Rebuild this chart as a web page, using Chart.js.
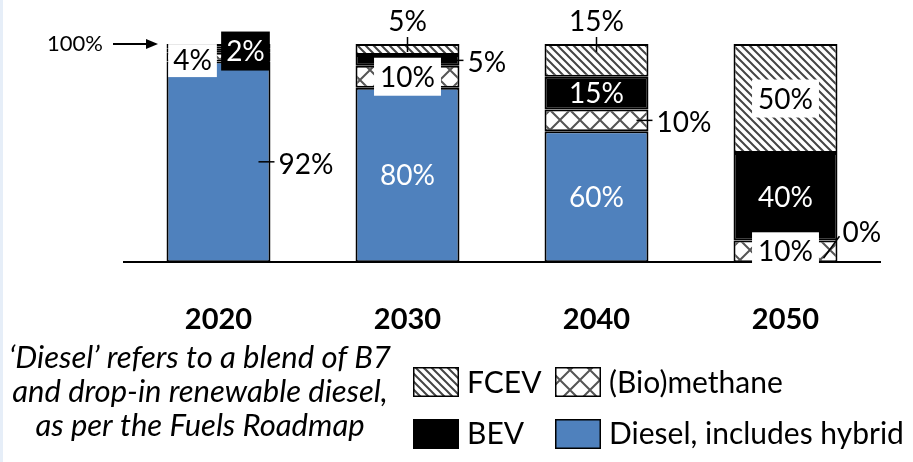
<!DOCTYPE html>
<html>
<head>
<meta charset="utf-8">
<script src="https://cdn.jsdelivr.net/npm/chart.js@4.4.0/dist/chart.umd.min.js"></script>
<style>
  html, body { margin: 0; padding: 0; background: #fff; }
  #wrap { width: 913px; height: 462px; }
</style>
</head>
<body>
<div id="wrap"><canvas id="fleetChart" width="913" height="462"></canvas></div>
<script>
// Truck fleet share by powertrain, % of fleet
const years = ['2020', '2030', '2040', '2050'];
const diesel = [92, 80, 60, 0];
const biomethane = [4, 10, 10, 10];
const bev = [2, 5, 15, 40];
const fcev = [2, 5, 15, 50];
const seriesNames = ['Diesel, includes hybrid', '(Bio)methane', 'BEV', 'FCEV'];
const footnote = ['‘Diesel’ refers to a blend of B7', 'and drop-in renewable diesel,', 'as per the Fuels Roadmap'];

// where each value label goes (null = no label)
const labelPlacement = [
  ['right', 'inside', 'inside', 'slant'],   // diesel
  ['boxLeft', 'box', 'right', 'box'],       // biomethane
  ['blackRight', 'right', 'inside', 'inside'], // bev
  [null, 'above', 'above', 'box']           // fcev
];

const FONT = 'Lato, "Open Sans", sans-serif';
const canvas = document.getElementById('fleetChart');
const ctx = canvas.getContext('2d');

function hatchPattern() {
  const t = document.createElement('canvas');
  t.width = 8; t.height = 8;
  const g = t.getContext('2d');
  g.fillStyle = '#fff';
  g.fillRect(0, 0, 8, 8);
  g.strokeStyle = '#444';
  g.lineWidth = 2;
  g.beginPath();
  g.moveTo(-2, -2); g.lineTo(10, 10);
  g.moveTo(-2, 6); g.lineTo(2, 10);
  g.moveTo(6, -2); g.lineTo(10, 2);
  g.stroke();
  return ctx.createPattern(t, 'repeat');
}

function latticePattern() {
  const s = 20;
  const t = document.createElement('canvas');
  t.width = s; t.height = s;
  const g = t.getContext('2d');
  g.fillStyle = '#fff';
  g.fillRect(0, 0, s, s);
  g.strokeStyle = '#555';
  g.lineWidth = 2;
  g.beginPath();
  g.moveTo(0, 0); g.lineTo(s, s);
  g.moveTo(s, 0); g.lineTo(0, s);
  g.stroke();
  return ctx.createPattern(t, 'repeat');
}

const fcevFill = hatchPattern();
const bioFill = latticePattern();

function line(c, x1, y1, x2, y2) {
  c.beginPath();
  c.moveTo(x1, y1);
  c.lineTo(x2, y2);
  c.stroke();
}

function drawValueLabels(chart) {
  const c = chart.ctx;
  c.save();
  c.font = '28px ' + FONT;
  c.textBaseline = 'middle';
  c.strokeStyle = '#000';
  c.lineWidth = 1.5;
  chart.data.datasets.forEach((ds, i) => {
    const meta = chart.getDatasetMeta(i);
    meta.data.forEach((bar, j) => {
      const mode = labelPlacement[i][j];
      if (!mode) return;
      const text = ds.data[j] + '%';
      const top = Math.min(bar.y, bar.base);
      const bottom = Math.max(bar.y, bar.base);
      const cy = (top + bottom) / 2;
      const left = bar.x - bar.width / 2;
      const right = bar.x + bar.width / 2;
      const tw = c.measureText(text).width;
      c.textAlign = 'center';
      if (mode === 'inside') {
        c.fillStyle = '#fff';
        c.fillText(text, bar.x, cy + 1);
      } else if (mode === 'box') {
        c.fillStyle = '#fff';
        c.fillRect(bar.x - tw / 2 - 6, cy - 19, tw + 12, 38);
        c.fillStyle = '#000';
        c.fillText(text, bar.x, cy + 1);
      } else if (mode === 'boxLeft') {
        const x = left + 26;
        c.fillStyle = '#fff';
        c.fillRect(x - tw / 2 - 5, cy - 13, tw + 10, 33);
        c.fillStyle = '#000';
        c.fillText(text, x, cy + 4);
      } else if (mode === 'blackRight') {
        const x = right - 25;
        c.fillStyle = '#000';
        c.fillRect(x - tw / 2 - 5, cy - 19, tw + 10, 39);
        c.fillStyle = '#fff';
        c.fillText(text, x, cy + 1);
      } else if (mode === 'right') {
        line(c, right - 12, cy, right + 4, cy);
        c.textAlign = 'left';
        c.fillStyle = '#000';
        c.fillText(text, right + 8, cy + 3);
      } else if (mode === 'above') {
        line(c, bar.x, top + 8, bar.x, top - 7);
        c.fillStyle = '#000';
        c.fillText(text, bar.x, top - 22);
      } else if (mode === 'slant') {
        line(c, right - 14, bottom - 4, right + 2, bottom - 26);
        c.textAlign = 'left';
        c.fillStyle = '#000';
        c.fillText(text, right + 5, bottom - 29);
      }
    });
  });
  c.restore();
}

function drawHundredMarker(chart) {
  const c = chart.ctx;
  const y = chart.scales.y.getPixelForValue(100);
  c.save();
  c.font = '22px ' + FONT;
  c.fillStyle = '#000';
  c.textAlign = 'right';
  c.textBaseline = 'middle';
  c.fillText('100%', 103, y);
  c.strokeStyle = '#000';
  c.lineWidth = 2;
  line(c, 113, y, 148, y);
  c.beginPath();
  c.moveTo(158, y);
  c.lineTo(146, y - 5);
  c.lineTo(146, y + 5);
  c.closePath();
  c.fill();
  c.restore();
}

function drawFootnote(chart) {
  const c = chart.ctx;
  c.save();
  c.font = 'italic 31px ' + FONT;
  c.fillStyle = '#000';
  c.textAlign = 'center';
  c.textBaseline = 'alphabetic';
  const baselines = [368, 402, 436];
  footnote.forEach((t, k) => c.fillText(t, 200, baselines[k]));
  c.restore();
}

function drawLegend(chart) {
  const c = chart.ctx;
  const ds = chart.data.datasets;
  // [dataset index, swatch x, swatch top, baseline]
  const items = [
    [3, 413, 367, 393],
    [1, 555, 367, 393],
    [2, 413, 419, 444],
    [0, 555, 419, 444]
  ];
  c.save();
  c.font = '30px ' + FONT;
  c.textBaseline = 'alphabetic';
  c.textAlign = 'left';
  items.forEach(([i, x, y, base]) => {
    c.fillStyle = ds[i].backgroundColor;
    c.fillRect(x, y, 46, 30);
    c.strokeStyle = '#000';
    c.lineWidth = 1.5;
    c.strokeRect(x + 0.75, y + 0.75, 44.5, 28.5);
    c.fillStyle = '#000';
    c.fillText(ds[i].label, x + 54, base);
  });
  c.restore();
}

const overlay = {
  id: 'overlay',
  beforeDraw(chart) {
    const c = chart.ctx;
    c.save();
    c.fillStyle = '#fff';
    c.fillRect(0, 0, chart.width, chart.height);
    c.fillStyle = '#e6eef8';
    c.fillRect(0, 0, 3, chart.height);
    c.restore();
  },
  afterDraw(chart) {
    drawValueLabels(chart);
    drawHundredMarker(chart);
    drawFootnote(chart);
    drawLegend(chart);
  }
};

new Chart(ctx, {
  type: 'bar',
  data: {
    labels: years,
    datasets: [
      { label: seriesNames[0], data: diesel, backgroundColor: '#4f81bd' },
      { label: seriesNames[1], data: biomethane, backgroundColor: bioFill },
      { label: seriesNames[2], data: bev, backgroundColor: '#000' },
      { label: seriesNames[3], data: fcev, backgroundColor: fcevFill }
    ]
  },
  options: {
    responsive: false,
    animation: false,
    layout: { padding: { left: 124, right: 33, top: 44, bottom: 85 } },
    datasets: {
      bar: {
        borderColor: '#000',
        borderWidth: 2,
        borderSkipped: false,
        barPercentage: 0.55,
        categoryPercentage: 1
      }
    },
    scales: {
      x: {
        stacked: true,
        grid: { display: false, drawTicks: false },
        border: { color: '#000', width: 2 },
        ticks: { padding: 40, color: '#000', font: { family: FONT, weight: 'bold', size: 29 } }
      },
      y: { stacked: true, display: false, min: 0, max: 100 }
    },
    plugins: {
      legend: { display: false },
      tooltip: { enabled: false }
    }
  },
  plugins: [overlay]
});
</script>
</body>
</html>
